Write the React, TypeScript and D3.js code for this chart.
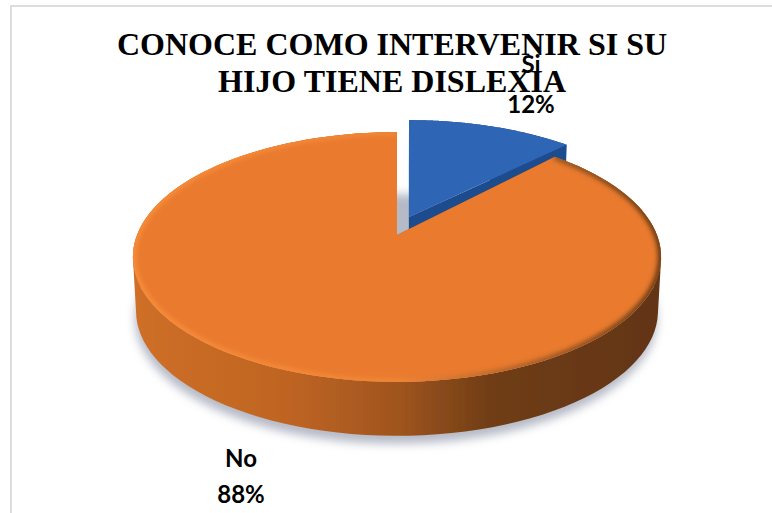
import React from "react";
import * as d3 from "d3";

const categories = ["Si", "No"];
const shares = [12, 88];
const percentLabels = ["12%", "88%"];
const titleLines = ["CONOCE COMO INTERVENIR SI SU", "HIJO TIENE DISLEXIA"];
const sliceColours = ["#2F65B5", "#E97A2F"];

const W = 772, H = 513;
const apexX = 397, apexY = 235;
const A = 260, B = 121, K = 0.176, DEPTH = 54, FOOT = 0.988;
// rim shift x, rim shift y, extra apex shift y
const explode = [[12, -12, -6], [0, 0, 0]];

// perspective projection of the unit disc
const project = (r: number, a: number): [number, number] => {
  const u = r * Math.sin(a), v = -r * Math.cos(a);
  const d = 1 - K * v;
  return [apexX + (A * u) / d, apexY + (B * v) / d];
};
const line = d3.line().curve(d3.curveLinear);
const arcPts = (a0: number, a1: number) => d3.range(0, 121).map((i) => project(1, a0 + ((a1 - a0) * i) / 120));
const foot = ([x, y]: number[]): [number, number] => [apexX + (x - apexX) * FOOT, y + DEPTH];

export default function App() {
  const arcs = d3.pie<number>().sort(null)(shares);
  const tops = arcs.map((s, i) => {
    const [dx, dy, ay] = explode[i];
    const rim = arcPts(s.startAngle, s.endAngle).map(([x, y]) => [x + dx, y + dy] as [number, number]);
    const apex: [number, number] = [apexX + dx, apexY + dy + ay];
    return { rim, apex };
  });
  const topPath = (i: number) => line([tops[i].apex, ...tops[i].rim])! + "Z";
  // the extruded wall: one path of equally wound quads, so that they fill as a union
  const wall = (i: number) => {
    const t = tops[i];
    const o = [t.apex, ...t.rim, t.apex];
    return d3.range(o.length - 1).map((k) => {
      const q: [number, number][] = [o[k], o[k + 1], foot(o[k + 1]), foot(o[k])];
      return line((d3.polygonArea(q) < 0 ? q.reverse() : q))! + "Z";
    }).join("");
  };
  const shadowEllipse = arcPts(0, Math.PI * 2).map((p) => {
    const [x, y] = foot(p);
    return [x - 1, y + 8] as [number, number];
  });

  return (
    <svg width={W} height={H} style={{ position: "absolute", left: 0, top: 0 }}>
      <defs>
        <filter id="soft" x="-10%" y="-10%" width="120%" height="120%"><feGaussianBlur stdDeviation="0.7" /></filter>
        <filter id="rimblur" x="-10%" y="-10%" width="120%" height="120%"><feGaussianBlur stdDeviation="2.2" /></filter>
        <filter id="shadow" x="-10%" y="-10%" width="120%" height="130%"><feGaussianBlur stdDeviation="5" /></filter>
        <linearGradient id="wallNo" gradientUnits="userSpaceOnUse" x1={133} x2={661} y1={0} y2={0}>
          <stop offset="0" stopColor="#CF6F27" />
          <stop offset="0.3" stopColor="#BE6421" />
          <stop offset="0.5" stopColor="#A0551F" />
          <stop offset="0.68" stopColor="#6F3D15" />
          <stop offset="1" stopColor="#623512" />
        </linearGradient>
        <linearGradient id="rimNo" gradientUnits="userSpaceOnUse" x1={133} x2={661} y1={0} y2={0}>
          <stop offset="0" stopColor="#F78C38" />
          <stop offset="0.5" stopColor="#F28533" />
          <stop offset="0.72" stopColor="#B5642A" />
          <stop offset="1" stopColor="#6E3E16" />
        </linearGradient>
        <clipPath id="clipNo"><path d={topPath(1)} /></clipPath>
      </defs>
      <rect x={11} y={6} width={W} height={H} fill="#fff" stroke="#DDDDDD" strokeWidth={2} />
      <path d={line(shadowEllipse)! + "Z"} fill="#9DA3B3" opacity={0.75} filter="url(#shadow)" />
      <g filter="url(#soft)">
        <path d={wall(0)} fill="#1E4C8E" />
        <path d={topPath(0)} fill={sliceColours[0]} />
        <path d={wall(1)} fill="url(#wallNo)" />
        <path d={topPath(1)} fill={sliceColours[1]} />
        <g clipPath="url(#clipNo)">
          <path d={line(tops[1].rim)!} fill="none" stroke="url(#rimNo)" strokeWidth={7} filter="url(#rimblur)" />
        </g>
      </g>
      <g fontFamily="'Liberation Serif', serif" fontWeight={700} fontSize={32} textAnchor="middle" fill="#000">
        <text x={392} y={55}>{titleLines[0]}</text>
        <text x={392} y={92}>{titleLines[1]}</text>
      </g>
      <g fontFamily="Lato, sans-serif" fontWeight={700} fontSize={24} textAnchor="middle" fill="#000">
        <text x={531} y={73}>{categories[0]}</text>
        <text x={531} y={113}>{percentLabels[0]}</text>
        <text x={241} y={467}>{categories[1]}</text>
        <text x={241} y={503}>{percentLabels[1]}</text>
      </g>
    </svg>
  );
}
